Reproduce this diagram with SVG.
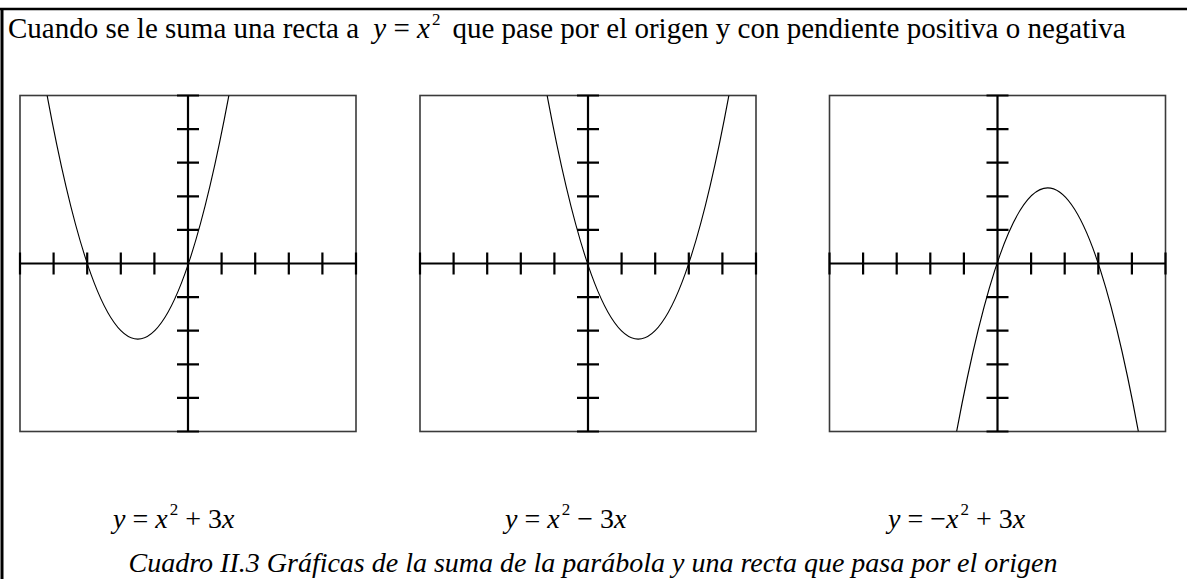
<svg xmlns="http://www.w3.org/2000/svg" width="1187" height="579" viewBox="0 0 1187 579">
<style>
text{font-family:"Liberation Serif","Times New Roman",serif;fill:#000}
.t{font-size:28px}
.h{font-size:29px}
.i{font-style:italic}
.sup{font-size:17px}
.frame{stroke:#000;fill:none}
.box{fill:#fff;stroke:#3a3a3a;stroke-width:1.6}
.axis{stroke:#000;stroke-width:2.2;fill:none}
.curve{stroke:#000;stroke-width:1.2;fill:none}
</style>
<defs>
<clipPath id="c1"><rect x="20" y="95.5" width="336" height="336"/></clipPath>
<clipPath id="c2"><rect x="420" y="95.5" width="336" height="336"/></clipPath>
<clipPath id="c3"><rect x="829.5" y="95.5" width="336" height="336"/></clipPath>
<g id="axes">
<path class="axis" d="M-168 0H168M0 -168V168
M-168 -11V11M-134.4 -11V11M-100.8 -11V11M-67.2 -11V11M-33.6 -11V11M33.6 -11V11M67.2 -11V11M100.8 -11V11M134.4 -11V11M168 -11V11
M-11 -168H11M-11 -134.4H11M-11 -100.8H11M-11 -67.2H11M-11 -33.6H11M-11 33.6H11M-11 67.2H11M-11 100.8H11M-11 134.4H11M-11 168H11"/>
</g>
</defs>
<g id="frame">
<line class="frame" x1="0" y1="9" x2="1187" y2="9" stroke-width="2.5"/>
<line class="frame" x1="2" y1="8" x2="2" y2="579" stroke-width="3"/>
</g>
<g id="title">
<text class="h" x="8" y="38">Cuando se le suma una recta a <tspan dx="7" class="i">y</tspan> = <tspan class="i">x</tspan><tspan class="sup" dx="2" dy="-13">2</tspan><tspan dy="13" dx="12">que pase por el origen y con pendiente positiva o negativa</tspan></text>
</g>
<g id="plot1">
<rect class="box" x="20" y="95.5" width="336" height="336"/>
<use href="#axes" transform="translate(188,263.5)"/>
<path class="curve" clip-path="url(#c1)" d="M47.13 95.5Q137.6 582.7 228.87 95.5"/>
</g>
<g id="plot2">
<rect class="box" x="420" y="95.5" width="336" height="336"/>
<use href="#axes" transform="translate(588,263.5)"/>
<path class="curve" clip-path="url(#c2)" d="M547.13 95.5Q638.4 582.7 728.87 95.5"/>
</g>
<g id="plot3">
<rect class="box" x="829.5" y="95.5" width="336" height="336"/>
<use href="#axes" transform="translate(997.5,263.5)"/>
<path class="curve" clip-path="url(#c3)" d="M956.63 431.5Q1047.9 -55.7 1138.37 431.5"/>
</g>
<g id="eq1">
<text class="t" x="113" y="528"><tspan class="i">y</tspan> = <tspan class="i">x</tspan><tspan class="sup" dx="2" dy="-13">2</tspan><tspan dy="13" dx="7">+ 3</tspan><tspan class="i">x</tspan></text>
</g>
<g id="eq2">
<text class="t" x="505" y="528"><tspan class="i">y</tspan> = <tspan class="i">x</tspan><tspan class="sup" dx="2" dy="-13">2</tspan><tspan dy="13" dx="7">− 3</tspan><tspan class="i">x</tspan></text>
</g>
<g id="eq3">
<text class="t" x="888" y="528"><tspan class="i">y</tspan> = −<tspan class="i">x</tspan><tspan class="sup" dx="2" dy="-13">2</tspan><tspan dy="13" dx="7">+ 3</tspan><tspan class="i">x</tspan></text>
</g>
<g id="caption">
<text class="t i" x="593" y="572" text-anchor="middle">Cuadro II.3 Gráficas de la suma de la parábola y una recta que pasa por el origen</text>
</g>
</svg>
